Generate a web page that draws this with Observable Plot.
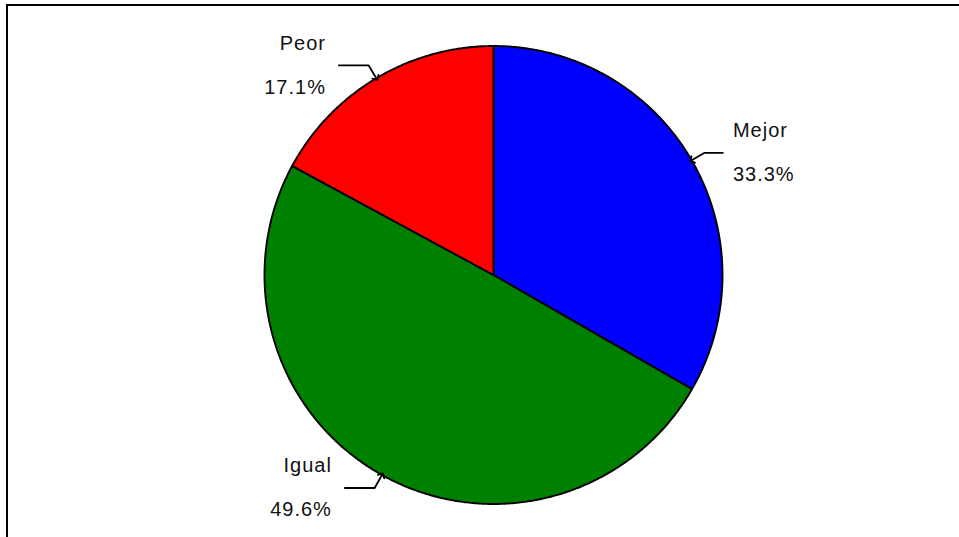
<!DOCTYPE html>
<html>
<head>
<meta charset="utf-8">
<script src="https://cdn.jsdelivr.net/npm/d3@7"></script>
<script src="https://cdn.jsdelivr.net/npm/@observablehq/plot@0.6"></script>
<style>
  html, body { margin: 0; padding: 0; background: #fff; overflow: hidden; width: 959px; height: 537px; }
  #wrap { position: relative; width: 959px; height: 537px; }
  #frame { position: absolute; left: 6px; top: 4px; width: 1200px; height: 1200px;
           border-left: 2px solid #000; border-top: 2px solid #000; pointer-events: none; }
  #chart { position: absolute; left: 0; top: 0; }
  #chart text { letter-spacing: 1px; }
</style>
</head>
<body>
<div id="wrap"><div id="chart"></div><div id="frame"></div></div>
<script>
// ---- data ----
const categories = ["Mejor", "Igual", "Peor"];
const values = [33.3, 49.6, 17.1];
const colors = ["#0000ff", "#008000", "#ff0000"];

// ---- geometry from data ----
const arcs = d3.pie().sort(null)(values); // angle 0 at 12 o'clock, clockwise
const toXY = (a, r) => [r * Math.sin(a), r * Math.cos(a)];

const slicePts = [];
arcs.forEach((a, i) => {
  const name = categories[i];
  slicePts.push({name, x: 0, y: 0});
  const n = Math.max(2, Math.ceil((a.endAngle - a.startAngle) / (Math.PI / 360)));
  for (let k = 0; k <= n; k++) {
    const t = a.startAngle + (a.endAngle - a.startAngle) * k / n;
    const [x, y] = toXY(t, 1);
    slicePts.push({name, x, y});
  }
  slicePts.push({name, x: 0, y: 0});
});

const leaderPts = [];
const labels = [];
arcs.forEach((a, i) => {
  const name = categories[i];
  const mid = (a.startAngle + a.endAngle) / 2;
  const [tx, ty] = toXY(mid, 1);
  const [ex, ey] = toXY(mid, 1.065);
  const right = ex >= 0;
  const ox = ex + (right ? 0.08 : -0.13);
  leaderPts.push({name, x: ox, y: ey});
  leaderPts.push({name, x: ex, y: ey});
  leaderPts.push({name, x: tx, y: ty});
  labels.push({name, pct: d3.format(".1f")(values[i]) + "%", x: ox, y: ey, right});
});

const fs = 20;
const plot = Plot.plot({
  width: 959,
  height: 537,
  marginLeft: 264,
  marginRight: 237,
  marginTop: 45.5,
  marginBottom: 33.5,
  x: {domain: [-1, 1], axis: null},
  y: {domain: [-1, 1], axis: null},
  color: {domain: categories, range: colors},
  style: {fontFamily: "Arial, 'Liberation Sans', sans-serif", background: "transparent"},
  marks: [
    Plot.line(slicePts, {x: "x", y: "y", z: "name", fill: "name", stroke: "#000", strokeWidth: 1.9, curve: "linear", strokeLinejoin: "round"}),
    Plot.line(leaderPts, {x: "x", y: "y", z: "name", stroke: "#000", strokeWidth: 1.8, markerEnd: "arrow", curve: "linear"}),
    Plot.text(labels.filter(d => d.right), {x: "x", y: "y", text: "name", fontSize: fs, fill: "#111", textAnchor: "start", dx: 10, dy: -22}),
    Plot.text(labels.filter(d => !d.right), {x: "x", y: "y", text: "name", fontSize: fs, fill: "#111", textAnchor: "end", dx: -13, dy: -22}),
    Plot.text(labels.filter(d => d.right), {x: "x", y: "y", text: "pct", fontSize: fs, fill: "#111", textAnchor: "start", dx: 10, dy: 22}),
    Plot.text(labels.filter(d => !d.right), {x: "x", y: "y", text: "pct", fontSize: fs, fill: "#111", textAnchor: "end", dx: -13, dy: 22})
  ]
});
document.getElementById("chart").appendChild(plot);
</script>
</body>
</html>
